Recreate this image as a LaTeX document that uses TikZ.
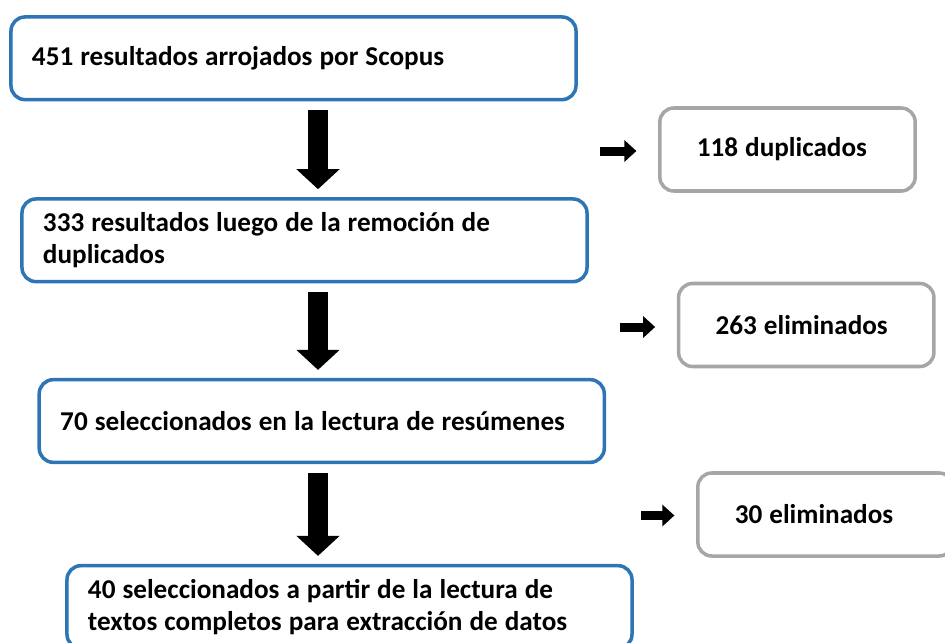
\documentclass[tikz,border=0pt]{standalone}
\usepackage{fontspec}
\setmainfont{Carlito}
\usepackage{tikz}
\usetikzlibrary{arrows.meta,calc,positioning}
\definecolor{azulcaja}{RGB}{46,117,182}
\definecolor{griscaja}{RGB}{166,166,166}

\begin{document}
\begin{tikzpicture}[x=0.03cm,y=-0.03cm,
		letra/.style={font=\fontsize{23.2}{27.2}\selectfont\bfseries,execute at begin node={\spaceskip=0.21cm\relax}},
		paso/.style={letra,draw=azulcaja,line width=3pt,rounded corners=0.42cm,minimum width=16.95cm,minimum height=2.48cm,text width=15.69cm,inner xsep=0.63cm,align=left},
		descarte/.style={letra,draw=griscaja,line width=3pt,rounded corners=0.42cm,minimum width=7.66cm,minimum height=2.49cm,text width=5.44cm,inner xsep=1.11cm,align=left},
		flecha/.style={line width=0.6cm,-{Triangle[width=1.26cm,length=0.6cm]},shorten <=0.26cm,shorten >=0.24cm},
		flechita/.style={line width=0.27cm,-{Triangle[width=0.63cm,length=0.36cm]},shorten >=0.65cm}]
		\useasboundingbox (0,0) rectangle (945,643);
		\clip (0,0) rectangle (945,643);
		% pasos de la busqueda
		\node[paso] (b1) at (293.5,58.3) {451 resultados arrojados por Scopus};
		\node[paso] (b2) at (304.5,240.3) {333 resultados luego de la remoción de\\duplicados};
		\node[paso] (b3) at (321.75,421) {70 seleccionados en la lectura de resúmenes};
		\node[paso] (b4) at (349.5,607) {40 seleccionados a partir de la lectura de\\textos completos para extracción de datos};
		% descartes
		\node[descarte] (g1) at (787.5,149.5) {118 duplicados};
		\node[descarte] (g2) at (806.25,325) {263 eliminados};
		\node[descarte] (g3) at (825.5,514.5) {30 eliminados};
		% flechas grandes
		\coordinate (ax) at (318,0);
		\draw[flecha] (b1.south -| ax) -- (b2.north -| ax);
		\draw[flecha] (b2.south -| ax) -- (b3.north -| ax);
		\draw[flecha] (b3.south -| ax) -- (b4.north -| ax);
		% flechas chicas
		\coordinate (s1) at (600,151);
		\coordinate (s2) at (620,327);
		\coordinate (s3) at (641,515.5);
		\draw[flechita] (s1) -- (s1 -| g1.west);
		\draw[flechita] (s2) -- (s2 -| g2.west);
		\draw[flechita] (s3) -- (s3 -| g3.west);
\end{tikzpicture}
\end{document}
